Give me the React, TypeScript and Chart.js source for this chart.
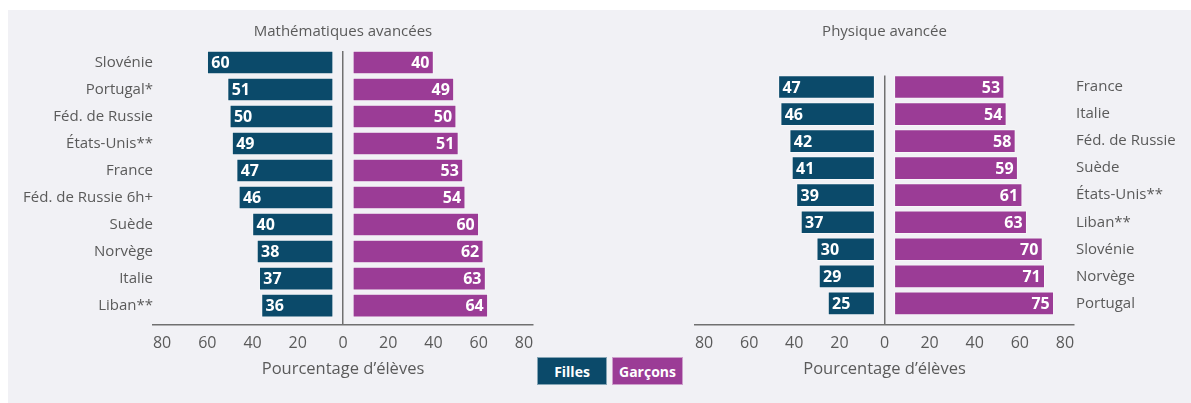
import React, { useEffect, useRef } from 'react';
import { Chart, registerables } from 'chart.js';

Chart.register(...registerables);

// ---- Data ----
const MATH_CATEGORIES = ['Slovénie', 'Portugal*', 'Féd. de Russie', 'États-Unis**', 'France', 'Féd. de Russie 6h+', 'Suède', 'Norvège', 'Italie', 'Liban**'];
const MATH_FILLES = [60, 51, 50, 49, 47, 46, 40, 38, 37, 36];
const MATH_GARCONS = [40, 49, 50, 51, 53, 54, 60, 62, 63, 64];

const PHYS_CATEGORIES = ['France', 'Italie', 'Féd. de Russie', 'Suède', 'États-Unis**', 'Liban**', 'Slovénie', 'Norvège', 'Portugal'];
const PHYS_FILLES = [47, 46, 42, 41, 39, 37, 30, 29, 25];
const PHYS_GARCONS = [53, 54, 58, 59, 61, 63, 70, 71, 75];

const X_TICKS = [-80, -60, -40, -20, 0, 20, 40, 60, 80];
const SERIES_NAMES = ['Filles', 'Garçons'];
const PANEL_TITLES = ['Mathématiques avancées', 'Physique avancée'];
const AXIS_TITLE = 'Pourcentage d’élèves';

// ---- Styles ----
const FONT = '"Open Sans", "Noto Sans", sans-serif';
const FILLES_COLOR = '#0b4a6a';
const GARCONS_COLOR = '#9b3c96';
const TEXT_COLOR = '#5a5a5a';
const AXIS_COLOR = '#707070';
const BG_COLOR = '#f1f1f5';
const GAP = 4.4; // visual gap between bars and the central line (axis units)
const X_RANGE = 84;

type Panel = {
  title: string;
  categories: string[];
  filles: number[];
  garcons: number[];
  left: number;
  width: number;
  padLeft: number;
  padRight: number;
  yWidth: number;
  yPosition: 'left' | 'right';
  yPad: number;
  titlePadBottom: number;
  yMaxExtra: number;
};

const PANELS: Panel[] = [
  {
    title: PANEL_TITLES[0], categories: MATH_CATEGORIES, filles: MATH_FILLES, garcons: MATH_GARCONS,
    left: 0, width: 560, padLeft: 0, padRight: 27, yWidth: 153, yPosition: 'left', yPad: 0, titlePadBottom: 11, yMaxExtra: 0.72,
  },
  {
    title: PANEL_TITLES[1], categories: PHYS_CATEGORIES, filles: PHYS_FILLES, garcons: PHYS_GARCONS,
    left: 560, width: 631, padLeft: 135, padRight: 0, yWidth: 117, yPosition: 'right', yPad: 2, titlePadBottom: 35.5, yMaxExtra: 0.8,
  },
];

const valueLabels = {
  id: 'valueLabels',
  afterDatasetsDraw(chart: any) {
    const ctx = chart.ctx;
    const xs = chart.scales.x;
    ctx.save();
    ctx.font = `bold 16px ${FONT}`;
    ctx.fillStyle = '#ffffff';
    ctx.textBaseline = 'middle';
    chart.data.datasets.forEach((ds: any, di: number) => {
      const meta = chart.getDatasetMeta(di);
      meta.data.forEach((el: any, i: number) => {
        const v = ds.values[i];
        if (di === 0) {
          ctx.textAlign = 'left';
          ctx.fillText(String(v), xs.getPixelForValue(-v) + 4, el.y + 1);
        } else {
          ctx.textAlign = 'right';
          ctx.fillText(String(v), xs.getPixelForValue(v) - 4, el.y + 1);
        }
      });
    });
    ctx.restore();
  },
};

function makeConfig(p: Panel): any {
  const n = p.categories.length;
  const barCommon = {
    borderColor: 'rgba(255,255,255,0.45)',
    borderWidth: 1,
    borderSkipped: false,
    barThickness: 23,
    grouped: false,
  };
  return {
    type: 'bar',
    data: {
      datasets: [
        {
          label: SERIES_NAMES[0],
          values: p.filles,
          data: p.filles.map((v, i) => ({ x: [-v, -GAP], y: i })),
          backgroundColor: FILLES_COLOR,
          ...barCommon,
        },
        {
          label: SERIES_NAMES[1],
          values: p.garcons,
          data: p.garcons.map((v, i) => ({ x: [GAP, v], y: i })),
          backgroundColor: GARCONS_COLOR,
          ...barCommon,
        },
      ],
    },
    options: {
      indexAxis: 'y',
      animation: false,
      responsive: false,
      maintainAspectRatio: false,
      layout: { padding: { left: p.padLeft, right: p.padRight, top: 0, bottom: 18 } },
      plugins: {
        legend: { display: false },
        tooltip: { enabled: false },
        title: {
          display: true,
          text: p.title,
          fullSize: false,
          color: TEXT_COLOR,
          font: { family: FONT, size: 15, weight: 'normal' },
          padding: { top: 23, bottom: p.titlePadBottom - 1 },
        },
      },
      scales: {
        x: {
          type: 'linear',
          min: -X_RANGE,
          max: X_RANGE,
          afterBuildTicks: (s: any) => { s.ticks = X_TICKS.map((v) => ({ value: v })); },
          afterFit: (s: any) => { s.height = 60; },
          ticks: {
            callback: (v: any) => String(Math.abs(Number(v))),
            color: TEXT_COLOR,
            font: { family: FONT, size: 16 },
            padding: 9,
            autoSkip: false,
            maxRotation: 0,
          },
          grid: {
            drawTicks: false,
            color: (c: any) => (c.tick && c.tick.value === 0 ? AXIS_COLOR : 'rgba(0,0,0,0)'),
            lineWidth: 1.5,
          },
          border: { display: true, color: AXIS_COLOR, width: 1.5 },
          title: {
            display: true,
            text: AXIS_TITLE,
            color: TEXT_COLOR,
            font: { family: FONT, size: 16.5 },
            padding: { top: 0, bottom: 6 },
          },
        },
        y: {
          type: 'linear',
          position: p.yPosition,
          reverse: true,
          offset: false,
          min: -0.426,
          max: n - 1 + p.yMaxExtra,
          afterBuildTicks: (s: any) => { s.ticks = p.categories.map((_, i) => ({ value: i })); },
          afterFit: (s: any) => { s.width = p.yWidth; },
          ticks: {
            callback: (v: any) => p.categories[Number(v)] ?? '',
            color: TEXT_COLOR,
            font: { family: FONT, size: 15 },
            padding: p.yPad,
            autoSkip: false,
          },
          grid: { display: false, drawTicks: false },
          border: { display: false },
        },
      },
    },
    plugins: [valueLabels],
  };
}

function PanelChart({ panel }: { panel: Panel }) {
  const ref = useRef<HTMLCanvasElement | null>(null);
  useEffect(() => {
    if (!ref.current) return;
    const chart = new Chart(ref.current, makeConfig(panel));
    return () => chart.destroy();
  }, [panel]);
  return (
    <canvas
      ref={ref}
      width={panel.width}
      height={403}
      style={{ position: 'absolute', left: panel.left, top: 0, width: panel.width, height: 403 }}
    />
  );
}

const legendBox = (bg: string): React.CSSProperties => ({
  position: 'absolute',
  top: 357,
  height: 28,
  background: bg,
  color: '#ffffff',
  font: `bold 14px ${FONT}`,
  display: 'flex',
  alignItems: 'center',
  justifyContent: 'center',
  boxSizing: 'border-box',
  border: '1px solid rgba(255,255,255,0.5)',
});

export default function App() {
  return (
    <div style={{ position: 'absolute', left: 0, top: 0, width: 1191, height: 403, background: '#ffffff', overflow: 'hidden' }}>
      <div style={{ position: 'absolute', left: 8, top: 10, width: 1183, height: 393, background: BG_COLOR }} />
      {PANELS.map((p) => (
        <PanelChart key={p.title} panel={p} />
      ))}
      <div style={{ ...legendBox(FILLES_COLOR), left: 537, width: 70 }}>{SERIES_NAMES[0]}</div>
      <div style={{ ...legendBox(GARCONS_COLOR), left: 612, width: 71 }}>{SERIES_NAMES[1]}</div>
    </div>
  );
}
